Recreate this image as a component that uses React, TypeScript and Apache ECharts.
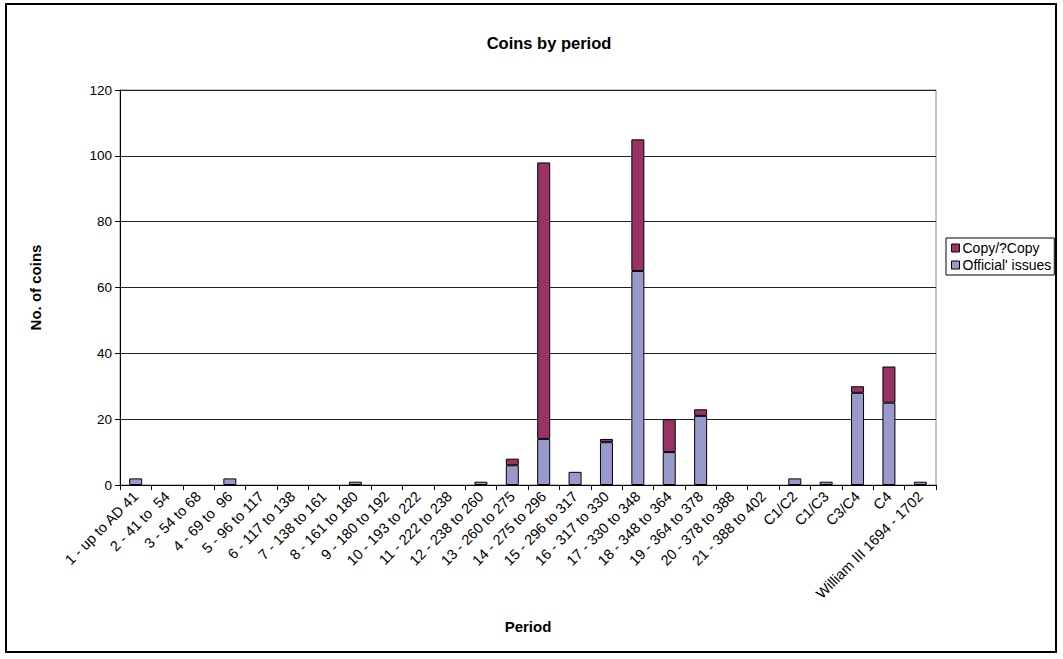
import React, { useEffect, useRef } from "react";
import * as echarts from "echarts";

const categories = [
  "1 - up to AD 41", "2 - 41 to  54", "3 - 54 to 68", "4 - 69 to  96", "5 - 96 to 117",
  "6 - 117 to 138", "7 - 138 to 161", "8 - 161 to 180", "9 - 180 to 192", "10 - 193 to 222",
  "11 - 222 to 238", "12 - 238 to 260", "13 - 260 to 275", "14 - 275 to 296", "15 - 296 to 317",
  "16 - 317 to 330", "17 - 330 to 348", "18 - 348 to 364", "19 - 364 to 378", "20 - 378 to 388",
  "21 - 388 to 402", "C1/C2", "C1/C3", "C3/C4", "C4", "William III 1694 - 1702",
];
const official = [2, 0, 0, 2, 0, 0, 0, 1, 0, 0, 0, 1, 6, 14, 4, 13, 65, 10, 21, 0, 0, 2, 1, 28, 25, 1];
const copies = [0, 0, 0, 0, 0, 0, 0, 0, 0, 0, 0, 0, 2, 84, 0, 1, 40, 10, 2, 0, 0, 0, 0, 2, 11, 0];
const yTicks = { min: 0, max: 120, interval: 20 };

const FONT = "'Liberation Sans', Arial, sans-serif";

export default function App() {
  const ref = useRef<HTMLDivElement>(null);
  useEffect(() => {
    const chart = echarts.init(ref.current!, null, { renderer: "svg" });
    chart.setOption({
      animation: false,
      backgroundColor: "#fff",
      textStyle: { fontFamily: FONT, color: "#000" },
      title: {
        text: "Coins by period",
        left: 544,
        top: 29,
        textAlign: "center",
        textStyle: { fontFamily: FONT, fontSize: 16.5, fontWeight: "bold", color: "#000" },
      },
      legend: {
        orient: "vertical",
        left: 946,
        top: 238,
        data: ["Copy/?Copy", "Official' issues"],
        itemWidth: 8,
        itemHeight: 8,
        itemGap: 3,
        icon: "rect",
        borderColor: "#000",
        borderWidth: 1,
        padding: [3, 3, 3, 5],
        itemStyle: { borderColor: "#000", borderWidth: 1 },
        textStyle: { fontFamily: FONT, fontSize: 14, color: "#000", padding: [0, 0, 0, -2] },
      },
      grid: {
        left: 120,
        top: 90,
        right: 127,
        bottom: 174,
        show: true,
        borderColor: "#888",
        borderWidth: 1,
      },
      graphic: [
        {
          type: "rect",
          shape: { x: 6, y: 4, width: 1050, height: 648 },
          style: { fill: "none", stroke: "#000", lineWidth: 2 },
          silent: true,
        },
      ],
      xAxis: {
        type: "category",
        data: categories,
        name: "Period",
        nameLocation: "middle",
        nameGap: 134,
        nameTextStyle: { fontFamily: FONT, fontSize: 15, fontWeight: "bold", color: "#000" },
        axisLine: { lineStyle: { color: "#000", width: 1 } },
        axisTick: { show: true, length: 5, lineStyle: { color: "#000" } },
        axisLabel: {
          interval: 0,
          rotate: 45,
          fontFamily: FONT,
          fontSize: 14.5,
          color: "#000",
          margin: 9,
        },
      },
      yAxis: {
        type: "value",
        min: yTicks.min,
        max: yTicks.max,
        interval: yTicks.interval,
        name: "No. of coins",
        nameLocation: "middle",
        nameGap: 77,
        nameRotate: 90,
        nameTextStyle: { fontFamily: FONT, fontSize: 15, fontWeight: "bold", color: "#000" },
        axisLine: { show: true, lineStyle: { color: "#000", width: 1 } },
        axisTick: { show: true, length: 5, lineStyle: { color: "#000" } },
        axisLabel: { fontFamily: FONT, fontSize: 13.5, color: "#000", margin: 8 },
        splitLine: { show: true, lineStyle: { color: "#222", width: 1 } },
      },
      series: [
        {
          name: "Official' issues",
          type: "bar",
          stack: "total",
          barWidth: 13,
          data: official.map((v) => (v === 0 ? null : v)),
          itemStyle: { color: "#9999cc", borderColor: "#000", borderWidth: 1 },
        },
        {
          name: "Copy/?Copy",
          type: "bar",
          stack: "total",
          barWidth: 13,
          data: copies.map((v) => (v === 0 ? null : v)),
          itemStyle: { color: "#993366", borderColor: "#000", borderWidth: 1 },
        },
      ],
    });
    return () => chart.dispose();
  }, []);
  return (
    <div
      ref={ref}
      style={{ position: "fixed", left: 0, top: 0, width: 1063, height: 659 }}
    />
  );
}
